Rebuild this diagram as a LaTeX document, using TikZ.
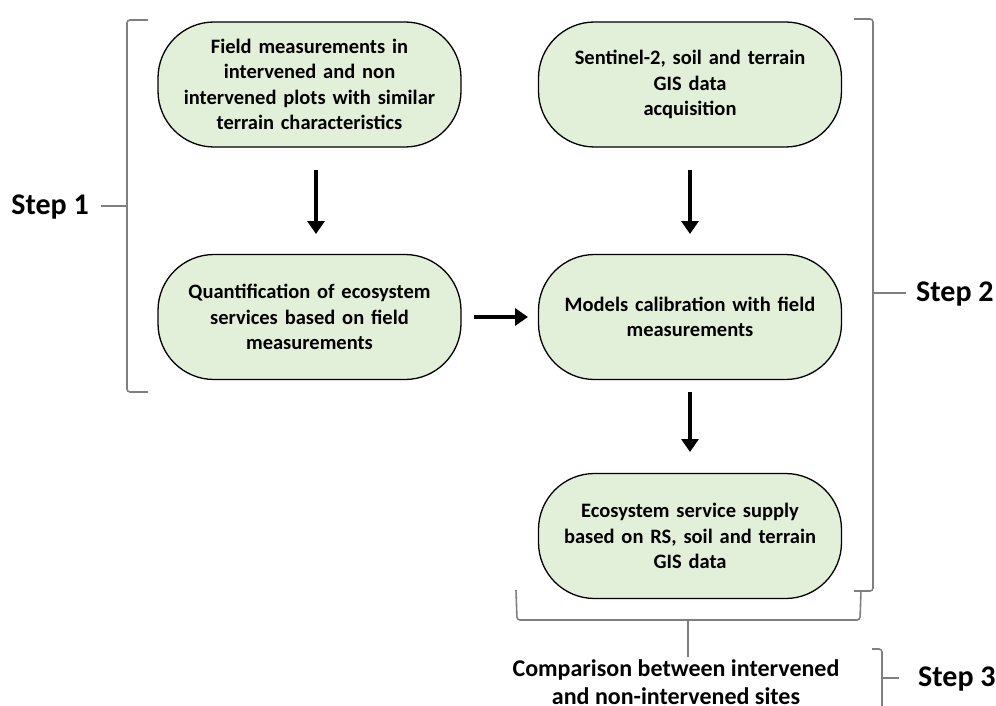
\documentclass[tikz,border=0pt]{standalone}
\usepackage{fontspec}
\setmainfont{Carlito}
\usetikzlibrary{arrows.meta}
\definecolor{boxfill}{HTML}{E2EFD9}
\definecolor{bracegray}{HTML}{7F7F7F}
\tikzset{
  flowbox/.style={draw=black, line width=1.3pt, fill=boxfill, rounded corners=56pt,
    minimum width=303pt, minimum height=125pt, text width=300pt, align=center,
    font=\fontsize{20.5pt}{25.5pt}\selectfont\bfseries, inner sep=0pt},
  bigarrow/.style={line width=4.5pt, -{Triangle[length=13pt,width=17pt]}},
  bracel/.style={draw=bracegray, line width=1.6pt, rounded corners=3pt},
  steplabel/.style={font=\fontsize{30pt}{32pt}\selectfont\bfseries, inner sep=0pt},
  plainlabel/.style={font=\fontsize{24pt}{28pt}\selectfont\bfseries, align=center, inner sep=0pt}
}
\begin{document}
\begin{tikzpicture}[x=1pt,y=-1pt]
\useasboundingbox (0,0) rectangle (996,706);
\node[flowbox] (A) at (309.5,84.5) {Field measurements in\\intervened and non\\intervened plots with similar\\terrain characteristics};
\node[flowbox] (B) at (690,84.5) {Sentinel-2, soil and terrain\\GIS data\\acquisition};
\node[flowbox] (C) at (309.5,317) {Quantification of ecosystem\\services based on field\\measurements};
\node[flowbox] (D) at (690,317) {Models calibration with field\\measurements};
\node[flowbox] (E) at (690,536) {Ecosystem service supply\\based on RS, soil and terrain\\GIS data};
\coordinate (a1) at (316,170); \coordinate (a2) at (316,234);
\coordinate (b1) at (690,170); \coordinate (b2) at (690,234);
\coordinate (c1) at (474,317); \coordinate (c2) at (528,317);
\coordinate (d1) at (690,392); \coordinate (d2) at (690,452);
\draw[bigarrow] (a1) -- (a2);
\draw[bigarrow] (b1) -- (b2);
\draw[bigarrow] (c1) -- (c2);
\draw[bigarrow] (d1) -- (d2);
% left brace
\coordinate (L1) at (148,20); \coordinate (L2) at (148,392);
\draw[bracel] (L1) -- (127,20) -- (127,392) -- (L2);
\coordinate (Lc) at (127,206);
\draw[bracel] (Lc) -- (101,206);
\node[steplabel, anchor=east] (S1) at (89,207) {Step 1};
% right brace
\draw[bracel] (854,19) -- (873,19) -- (873,591) -- (854,591);
\draw[bracel] (873,293) -- (906,293);
\node[steplabel, anchor=west] (S2) at (916,294) {Step 2};
% bottom brace
\draw[bracel] (516,590) -- (517,620) -- (860,620) -- (861,590);
\draw[bracel] (688,620) -- (688,657);
\node[plainlabel] (T) at (676,682) {Comparison between intervened\\and non-intervened sites};
% step 3 brace
\draw[bracel] (872,649) -- (882,649) -- (882,710);
\draw[bracel] (882,678) -- (899,678);
\node[steplabel, anchor=west] (S3) at (918,679) {Step 3};
\end{tikzpicture}
\end{document}
